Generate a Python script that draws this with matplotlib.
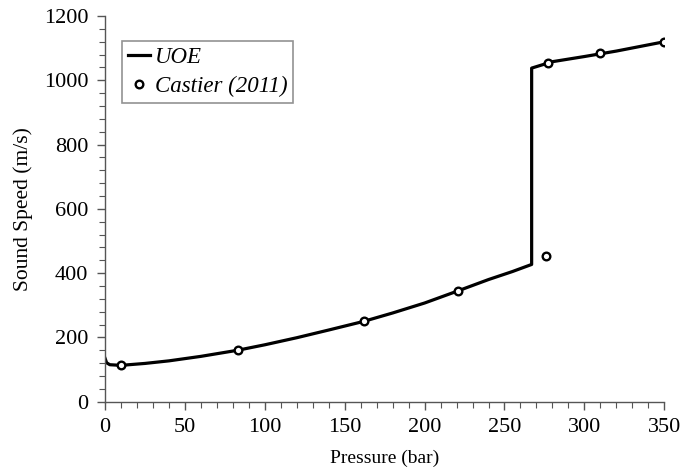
import matplotlib.pyplot as plt
import matplotlib.ticker as ticker

# UOE model curve: sound speed vs pressure (jump at the phase change)
uoe_p = [0, 1, 3, 10, 25, 40, 60, 83, 100, 120, 140, 162, 180, 200, 221, 240, 255, 267, 267, 280, 300, 320, 350]
uoe_c = [135, 121, 115, 113, 119, 127, 141, 160, 177, 199, 223, 250, 276, 307, 345, 380, 405, 427, 1038, 1058, 1074, 1091, 1120]

# Castier (2011) reference points
cas_p = [10, 83, 162, 221, 276, 277, 310, 350]
cas_c = [113, 160, 250, 345, 452, 1054, 1084, 1120]

plt.rcParams['font.family'] = ['Liberation Serif', 'DejaVu Serif']

fig = plt.figure(figsize=(6.82, 4.72), dpi=100)
ax = fig.add_axes([0.154, 0.149, 0.820, 0.817])

ax.plot(uoe_p, uoe_c, color='black', lw=2.3, label='UOE')
ax.plot(cas_p, cas_c, 'o', ms=5.5, mfc='white', mec='black', mew=1.7,
        label='Castier (2011)')

ax.set_xlim(0, 350)
ax.set_ylim(0, 1200)
ax.xaxis.set_major_locator(ticker.MultipleLocator(50))
ax.xaxis.set_minor_locator(ticker.MultipleLocator(10))
ax.yaxis.set_major_locator(ticker.MultipleLocator(200))
ax.yaxis.set_minor_locator(ticker.MultipleLocator(40))

for s in ('top', 'right'):
    ax.spines[s].set_visible(False)
for s in ('left', 'bottom'):
    ax.spines[s].set_color('#555555')
    ax.spines[s].set_linewidth(1.0)

ax.tick_params(which='major', direction='out', length=6, width=1.0,
               color='#555555', labelsize=16, pad=6)
ax.tick_params(which='minor', direction='out', length=4, width=0.8,
               color='#555555')

ax.set_xlabel('Pressure (bar)', fontsize=14, labelpad=9)
ax.set_ylabel('Sound Speed (m/s)', fontsize=15.5, labelpad=8)

leg = ax.legend(loc='upper left', bbox_to_anchor=(0.03, 0.935),
                prop={'style': 'italic', 'size': 16.5}, frameon=True,
                fancybox=False, borderpad=0.25, handlelength=1.0,
                handletextpad=0.2, labelspacing=0.35, borderaxespad=0)
leg.get_frame().set_edgecolor('#777777')
leg.get_frame().set_linewidth(1.2)

fig.savefig('out.png', dpi=100)
